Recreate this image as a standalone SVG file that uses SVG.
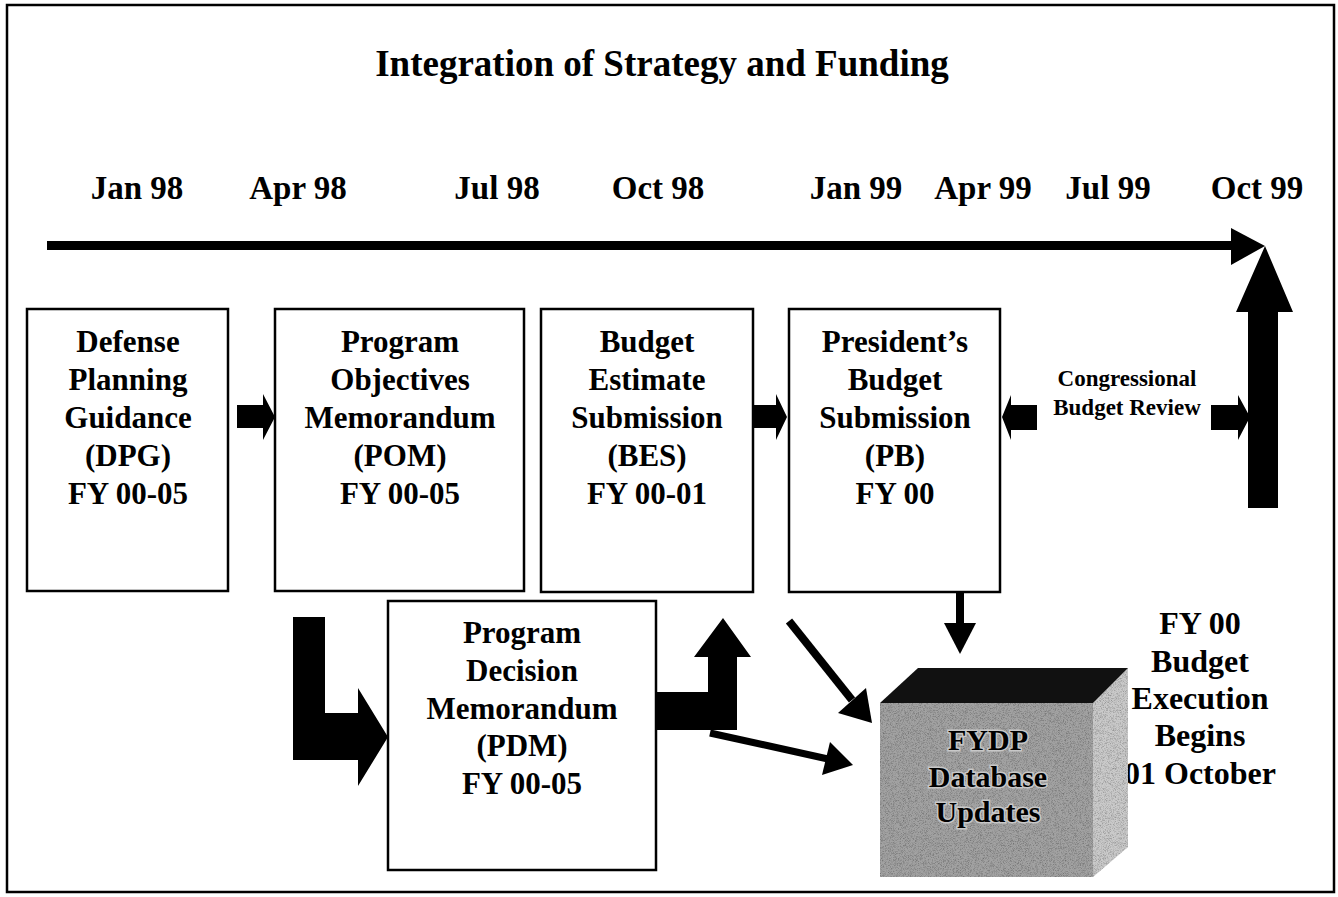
<svg xmlns="http://www.w3.org/2000/svg" width="1338" height="897" viewBox="0 0 1338 897">
<style>
  .t { font-family: "Liberation Serif", "Times New Roman", serif; font-weight: bold; fill: #000; text-anchor: middle; }
  .box { fill: #fff; stroke: #000; stroke-width: 2.5; }
  .lbl { font-size: 31px; }
  .mon { font-size: 33px; }
  .arr { fill: #000; stroke: none; }
  .ln { stroke: #000; fill: none; }
</style>
<defs>
  <filter id="grain" x="0" y="0" width="100%" height="100%">
    <feTurbulence type="fractalNoise" baseFrequency="1.4" numOctaves="1" seed="3" result="n"/>
    <feColorMatrix in="n" type="matrix" values="0 0 0 0 0  0 0 0 0 0  0 0 0 0 0  0 0 0 -1.4 0.8" result="dots"/>
    <feComposite in="dots" in2="SourceGraphic" operator="in" result="d2"/>
    <feMerge><feMergeNode in="SourceGraphic"/><feMergeNode in="d2"/></feMerge>
  </filter>
</defs>
<rect x="0" y="0" width="1338" height="897" fill="#fff"/>
<rect x="7" y="5" width="1327" height="887" fill="none" stroke="#000" stroke-width="2.5"/>

<text class="t" x="662" y="76" font-size="37">Integration of Strategy and Funding</text>

<g id="timeline-labels" class="t mon">
  <text x="137" y="199">Jan 98</text>
  <text x="298" y="199">Apr 98</text>
  <text x="497" y="199">Jul 98</text>
  <text x="658" y="199">Oct 98</text>
  <text x="856" y="199">Jan 99</text>
  <text x="983" y="199">Apr 99</text>
  <text x="1108" y="199">Jul 99</text>
  <text x="1257" y="199">Oct 99</text>
</g>

<g id="fy00-execution" class="t" font-size="32">
  <text x="1200" y="634">FY 00</text>
  <text x="1200" y="672">Budget</text>
  <text x="1200" y="709">Execution</text>
  <text x="1200" y="746">Begins</text>
  <text x="1200" y="784">01 October</text>
</g>

<g id="dpg">
  <rect class="box" x="27" y="309" width="201" height="282"/>
  <g class="t lbl">
    <text x="128" y="352">Defense</text>
    <text x="128" y="390">Planning</text>
    <text x="128" y="428">Guidance</text>
    <text x="128" y="466">(DPG)</text>
    <text x="128" y="504">FY 00-05</text>
  </g>
</g>
<g id="pom">
  <rect class="box" x="275" y="309" width="249" height="282"/>
  <g class="t lbl">
    <text x="400" y="352">Program</text>
    <text x="400" y="390">Objectives</text>
    <text x="400" y="428">Memorandum</text>
    <text x="400" y="466">(POM)</text>
    <text x="400" y="504">FY 00-05</text>
  </g>
</g>
<g id="bes">
  <rect class="box" x="541" y="309" width="212" height="283"/>
  <g class="t lbl">
    <text x="647" y="352">Budget</text>
    <text x="647" y="390">Estimate</text>
    <text x="647" y="428">Submission</text>
    <text x="647" y="466">(BES)</text>
    <text x="647" y="504">FY 00-01</text>
  </g>
</g>
<g id="pb">
  <rect class="box" x="789" y="309" width="211" height="283"/>
  <g class="t lbl">
    <text x="895" y="352">President’s</text>
    <text x="895" y="390">Budget</text>
    <text x="895" y="428">Submission</text>
    <text x="895" y="466">(PB)</text>
    <text x="895" y="504">FY 00</text>
  </g>
</g>
<g id="pdm">
  <rect class="box" x="388" y="601" width="268" height="269"/>
  <g class="t lbl">
    <text x="522" y="643">Program</text>
    <text x="522" y="681">Decision</text>
    <text x="522" y="719">Memorandum</text>
    <text x="522" y="756">(PDM)</text>
    <text x="522" y="794">FY 00-05</text>
  </g>
</g>

<g id="congress-label" class="t" font-size="23">
  <text x="1127" y="386">Congressional</text>
  <text x="1127" y="415">Budget Review</text>
</g>

<g id="fydp">
  <polygon points="880,703 1093,703 1093,877 880,877" fill="#a2a2a2" filter="url(#grain)"/>
  <polygon points="1093,703 1128,668 1128,847 1093,877" fill="#cacaca" filter="url(#grain)"/>
  <polygon points="880,703 918,668 1128,668 1093,703" fill="#111"/>
  <g class="t" font-size="30" stroke="#c8c8c8" stroke-width="3" paint-order="stroke">
    <text x="988" y="750">FYDP</text>
    <text x="988" y="787">Database</text>
    <text x="988" y="822">Updates</text>
  </g>
</g>

<g id="connectors">
  <!-- timeline -->
  <rect class="arr" x="47" y="241" width="1186" height="9"/>
  <polygon class="arr" points="1231,228 1265,246 1231,265"/>
  <!-- big up arrow -->
  <polygon class="arr" points="1248,508 1278,508 1278,312 1293,312 1265,246 1236,312 1248,312"/>
  <!-- DPG -> POM -->
  <polygon class="arr" points="237,405 263,405 263,394 275,417 263,440 263,428 237,428"/>
  <!-- BES -> PB -->
  <polygon class="arr" points="753,405 776,405 776,394 787,417 776,440 776,428 753,428"/>
  <!-- Congressional review arrows -->
  <polygon class="arr" points="1037,405 1011,405 1011,395 1002,417 1011,440 1011,430 1037,430"/>
  <polygon class="arr" points="1211,405 1238,405 1238,395 1250,417 1238,440 1238,430 1211,430"/>
  <!-- POM -> PDM L arrow -->
  <polygon class="arr" points="293,617 325,617 325,713 358,713 358,688 388,737 358,786 358,760 293,760"/>
  <!-- PDM -> BES up arrow -->
  <polygon class="arr" points="656,692 708,692 708,657 694,657 723,618 751,657 737,657 737,730 656,730"/>
  <!-- PB -> FYDP down arrow -->
  <rect class="arr" x="956" y="592" width="8" height="32"/>
  <polygon class="arr" points="944,623 976,623 960,654"/>
  <!-- diagonal -> FYDP -->
  <line class="ln" x1="789" y1="621" x2="852" y2="700" stroke-width="8"/>
  <polygon class="arr" points="838,713 872,723 866,688"/>
  <!-- diagonal from PDM -> FYDP -->
  <line class="ln" x1="710" y1="733" x2="828" y2="759" stroke-width="7"/>
  <polygon class="arr" points="822,775 853,765 830,742"/>
</g>
</svg>
